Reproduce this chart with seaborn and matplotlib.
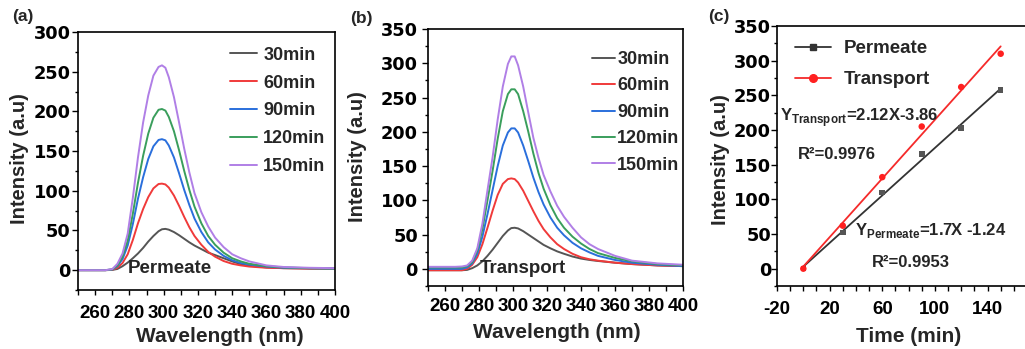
import numpy as np
import pandas as pd
import matplotlib
matplotlib.use("Agg")
import matplotlib.pyplot as plt
from matplotlib.lines import Line2D
import seaborn as sns

# ---------------- data ----------------
wavelength = [250, 260, 266, 270, 273, 276, 279, 282, 285, 288, 291, 294, 297, 299, 301,
              303, 306, 309, 312, 315, 318, 322, 326, 330, 335, 340, 345, 350, 360, 370, 385, 400]
times = ["30min", "60min", "90min", "120min", "150min"]

# (a) Permeate spectra
perm_30 = [0, 0, 0, 0.3, 1.5, 5, 9.5, 15, 21, 28, 36, 43, 49, 51.5, 52, 51, 48, 44, 39.5, 35, 31,
           26.5, 22, 19, 15, 11, 7.5, 5.5, 3.5, 2.5, 2, 2]
perm_60 = [0, 0, 0, 0.5, 3, 9, 20, 38, 59, 77, 92, 103, 108.5, 109, 108, 104, 94, 81, 67, 54, 43,
           32, 23, 17, 11.5, 8, 6, 4.5, 3, 2.5, 2, 2]
perm_90 = [0, 0, 0, 0.8, 5, 14, 31, 58, 90, 117, 140, 156, 164, 165, 163.5, 157, 142, 122, 101, 82,
           65, 48, 35, 26, 18, 12.5, 9, 7, 4.5, 3, 2.5, 2]
perm_120 = [0, 0, 0, 1, 6, 17, 37, 71, 110, 144, 172, 192, 202, 203, 201, 193, 175, 151, 125, 101,
            80, 59, 43, 32, 22, 15, 11, 8, 5, 3.5, 2.5, 2]
perm_150 = [0, 0, 0, 1.3, 8, 21, 46, 91, 142, 186, 220, 245, 256, 258, 255, 243, 218, 186, 153, 123,
            97, 73, 55, 41, 29, 20, 15, 11, 6, 4, 3, 2.5]

# (b) Transport spectra
tran_30 = [-2, -2, -2, -2, -1.5, 1, 5, 11, 19, 28, 38, 48, 56, 59.5, 60, 59, 55, 50, 45, 40, 35,
           30, 25.5, 22, 18, 15, 13, 11.5, 9, 7, 5, 4]
tran_60 = [-2, -2, -2, -2, 0, 6, 17, 36, 60, 85, 108, 124, 131, 132, 131, 126, 114, 99, 84, 70, 58,
           46, 36, 29, 22, 17, 14, 12, 9, 7, 5, 4]
tran_90 = [0, 0, 0, 0, 2, 8, 22, 47, 80, 115, 150, 180, 199, 205, 205, 199, 180, 157, 133, 112, 94,
           75, 60, 49, 38, 30, 24, 19, 13, 9, 6, 4]
tran_120 = [2, 2, 2, 2, 4, 10, 27, 58, 100, 143, 190, 230, 255, 262, 262, 255, 230, 200, 168, 140,
            117, 93, 74, 60, 47, 37, 29, 23, 16, 11, 7, 5]
tran_150 = [3, 3, 3, 3.5, 5, 12, 30, 66, 115, 163, 218, 266, 299, 310, 310, 297, 266, 228, 191, 162,
            137, 113, 92, 76, 60, 46, 36, 29, 19, 12, 8, 6]

# (c) Peak intensity vs time
time_min = [0, 30, 60, 90, 120, 150]
peak_permeate = [0, 52, 110, 165, 203, 258]
peak_transport = [0, 62, 132, 205, 262, 310]

spec_colors = ["#555555", "#f03a3a", "#2a6fdc", "#3a9e5c", "#b07fe6"]

# ---------------- style ----------------
sns.set_theme(style="ticks")
plt.rcParams["font.family"] = ["Liberation Sans", "DejaVu Sans"]
plt.rcParams.update({
    "font.weight": "bold",
    "axes.labelweight": "bold",
    "axes.unicode_minus": False,
    "mathtext.fontset": "custom",
    "mathtext.rm": "Liberation Sans",
    "mathtext.bf": "Liberation Sans:bold",
    "axes.edgecolor": "black",
    "axes.linewidth": 1.2,
    "xtick.color": "black",
    "ytick.color": "black",
})

fig = plt.figure(figsize=(10.25, 3.49), dpi=100)
W, H = 1025.0, 349.0


def add_ax(l, t, r, b):
    return fig.add_axes([l / W, 1 - b / H, (r - l) / W, (b - t) / H])


ax_a = add_ax(78, 32, 335, 290)
ax_b = add_ax(428, 29, 683, 286)
ax_c = add_ax(777, 26, 1027, 286)


def long_df(series):
    rows = []
    for name, vals in zip(times, series):
        for x, y in zip(wavelength, vals):
            rows.append((x, y, name))
    return pd.DataFrame(rows, columns=["Wavelength", "Intensity", "Time"])


def style_axis(ax, xpad, ypad):
    ax.tick_params(axis="both", which="both", direction="out", width=1.0, colors="black")
    ax.tick_params(axis="both", which="major", length=4)
    ax.tick_params(axis="both", which="minor", length=2.5)
    ax.tick_params(axis="x", which="both", length=3.5, pad=xpad, labelsize=13.5)
    ax.tick_params(axis="y", pad=ypad, labelfontfamily="DejaVu Sans", labelsize=12.8)
    for s in ax.spines.values():
        s.set_visible(True)
        s.set_color("black")
        s.set_linewidth(1.2)


def set_labels(ax, xlabel, xlab_pos, ylab_pos):
    ax.set_xlabel(xlabel, fontsize=15, fontweight="bold")
    ax.set_ylabel("Intensity (a.u)", fontsize=14.5, fontweight="bold")
    ax.xaxis.label.set_va("center")
    ax.yaxis.label.set_va("center")
    ax.xaxis.set_label_coords(*xlab_pos)
    ax.yaxis.set_label_coords(*ylab_pos)


def spectra_panel(ax, series, ymax, leg_pos, leg_kw, note, note_pos,
                  xlab_pos, ylab_pos, xpad, ypad):
    df = long_df(series)
    sns.lineplot(data=df, x="Wavelength", y="Intensity", hue="Time", hue_order=times,
                 palette=spec_colors, linewidth=1.4, ax=ax, legend=True)
    ax.set_xlim(250, 400)
    ax.set_ylim(-25, ymax)
    ax.set_xticks(np.arange(260, 401, 20))
    ax.set_xticks(np.arange(250, 401, 10), minor=True)
    ax.set_yticks(np.arange(0, ymax + 1, 50))
    ax.set_yticks(np.arange(-25, ymax + 1, 25), minor=True)
    style_axis(ax, xpad, ypad)
    set_labels(ax, "Wavelength (nm)", xlab_pos, ylab_pos)
    handles, labels = ax.get_legend_handles_labels()
    ax.legend(handles, labels, loc="upper left", bbox_to_anchor=leg_pos, frameon=False,
              borderpad=0, borderaxespad=0, prop={"size": 13, "weight": "bold"}, **leg_kw)
    ax.text(note_pos[0], note_pos[1], note, transform=ax.transAxes, fontsize=13.5,
            fontweight="bold", va="center", ha="left")


spectra_panel(ax_a, [perm_30, perm_60, perm_90, perm_120, perm_150], 300,
              (0.591, 0.943), dict(handlelength=1.5, handletextpad=0.35, labelspacing=0.6),
              "Permeate", (0.195, 0.085), (0.553, -0.182), (-0.226, 0.508), 7.0, 1.2)
spectra_panel(ax_b, [tran_30, tran_60, tran_90, tran_120, tran_150], 350,
              (0.643, 0.914), dict(handlelength=1.3, handletextpad=0.1, labelspacing=0.52),
              "Transport", (0.204, 0.07), (0.505, -0.179), (-0.275, 0.502), 5.0, 3.2)

# ---------------- panel c ----------------
red = "#f52a2a"
dark = "#333333"
sns.regplot(x=time_min, y=peak_permeate, ax=ax_c, scatter=False, ci=None,
            line_kws=dict(color=dark, lw=1.3))
sns.regplot(x=time_min, y=peak_transport, ax=ax_c, scatter=False, ci=None,
            line_kws=dict(color=red, lw=1.3))
sns.scatterplot(x=time_min, y=peak_permeate, ax=ax_c, marker="s", s=16, color="#555555",
                edgecolor="none", zorder=3)
sns.scatterplot(x=time_min, y=peak_transport, ax=ax_c, marker="o", s=22, color="#ff2020",
                edgecolor="none", zorder=4)
ax_c.set_xlim(-20, 170)
ax_c.set_ylim(-25, 350)
ax_c.set_xticks([-20, 20, 60, 100, 140])
ax_c.set_xticks(np.arange(-20, 171, 10), minor=True)
ax_c.set_yticks(np.arange(0, 351, 50))
ax_c.set_yticks(np.arange(-25, 351, 25), minor=True)
style_axis(ax_c, 7.5, 0.3)
set_labels(ax_c, "Time (min)", (0.528, -0.196), (-0.224, 0.485))

leg_handles = [
    Line2D([], [], color=dark, lw=1.3, marker="s", markersize=5, markerfacecolor=dark,
           markeredgecolor=dark),
    Line2D([], [], color=red, lw=1.3, marker="o", markersize=5.5, markerfacecolor="#ff2020",
           markeredgecolor="#ff2020"),
]
ax_c.legend(leg_handles, ["Permeate", "Transport"], loc="upper left",
            bbox_to_anchor=(0.072, 0.946), frameon=False, borderpad=0, borderaxespad=0,
            handlelength=1.9, handletextpad=0.7, labelspacing=0.75,
            prop={"size": 13.5, "weight": "bold"})

ax_c.text(0.012, 0.646, r"$\mathbf{Y}_{\mathbf{Transport}}$=2.12X-3.86", transform=ax_c.transAxes,
          fontsize=12, fontweight="bold", va="center", ha="left")
ax_c.text(0.084, 0.504, "R²=0.9976", transform=ax_c.transAxes,
          fontsize=12, fontweight="bold", va="center", ha="left")
ax_c.text(0.312, 0.215, r"$\mathbf{Y}_{\mathbf{Permeate}}$=1.7X -1.24", transform=ax_c.transAxes,
          fontsize=12, fontweight="bold", va="center", ha="left")
ax_c.text(0.38, 0.092, "R²=0.9953", transform=ax_c.transAxes,
          fontsize=12, fontweight="bold", va="center", ha="left")

# panel labels
fig.text(12 / W, 1 - 17 / H, "(a)", fontsize=12.5, fontweight="bold", va="center", ha="left")
fig.text(350 / W, 1 - 18 / H, "(b)", fontsize=12.5, fontweight="bold", va="center", ha="left")
fig.text(708 / W, 1 - 17 / H, "(c)", fontsize=12.5, fontweight="bold", va="center", ha="left")

fig.savefig("out.png", dpi=100)
